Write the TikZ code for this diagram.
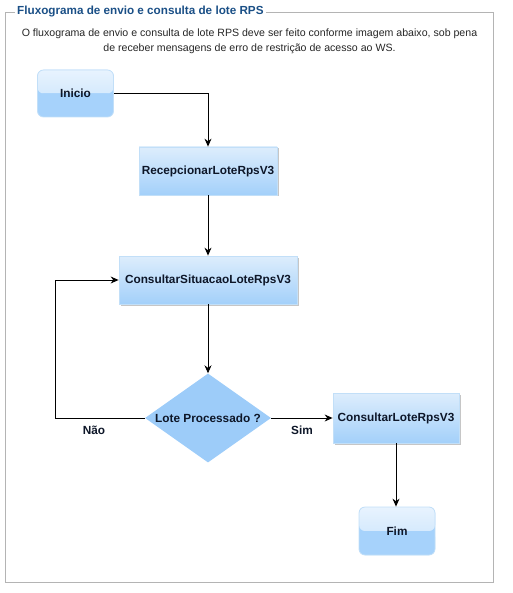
\documentclass[tikz,border=0pt]{standalone}
\usepackage{fontspec}
\setmainfont{Liberation Sans}
\usetikzlibrary{shapes.geometric,arrows.meta,shadows}
\definecolor{frame}{HTML}{B4B4B4}
\definecolor{titleblue}{HTML}{1A4F86}
\definecolor{boxtop}{HTML}{DDEDFC}
\definecolor{boxbot}{HTML}{A3D0FA}
\definecolor{boxline}{HTML}{C2DFF8}
\definecolor{uptop}{HTML}{E8F3FE}
\definecolor{upbot}{HTML}{C3E1FB}
\definecolor{lowfill}{HTML}{A6D2FB}
\definecolor{diafill}{HTML}{9DCCF9}
\definecolor{labtext}{HTML}{0D1628}
\tikzset{
  lbl/.style={font=\bfseries\fontsize{11.8}{13}\selectfont, text=labtext},
  procbox/.style={lbl, rectangle, draw=boxline, line width=0.8pt,
    top color=boxtop, bottom color=boxbot, inner sep=0pt,
    drop shadow={shadow xshift=1.5pt, shadow yshift=-1.5pt, fill=black!50, opacity=0.45}},
  termbox/.style={lbl, rectangle, rounded corners=6pt, draw=boxline, line width=0.8pt,
    inner sep=0pt, fill=lowfill,
    path picture={
      \fill[top color=uptop, bottom color=upbot]
        (path picture bounding box.north west) rectangle (path picture bounding box.east);
      \fill[lowfill]
        (path picture bounding box.west) rectangle (path picture bounding box.south east);
    }},
  decbox/.style={lbl, diamond, fill=diafill, inner sep=0pt, aspect=1.4},
  arr/.style={line width=0.9pt, -{Stealth[length=8pt,width=7pt]}},
  edgelbl/.style={lbl}
}
\begin{document}
\begin{tikzpicture}[x=1pt,y=-1pt]
\useasboundingbox (0,0) rectangle (512,593);
% frame with title
\draw[frame, line width=0.8pt] (15,12) -- (5,12) -- (5,582) -- (493,582) -- (493,12) -- (266,12);
\node[anchor=west, inner sep=0pt, text=titleblue, font=\bfseries\fontsize{11.7}{13}\selectfont] (title) at (17,12) {Fluxograma de envio e consulta de lote RPS};
\node[inner sep=0pt, align=center, font=\fontsize{10.6}{15}\selectfont, text=black!85] (intro) at (249.5,41.5)
  {O fluxograma de envio e consulta de lote RPS deve ser feito conforme imagem abaixo, sob pena\\de receber mensagens de erro de restrição de acesso ao WS.};

\node[termbox, minimum width=76pt, minimum height=47pt] (inicio) at (75.5,93.5) {Inicio};
\node[procbox, minimum width=138pt, minimum height=48pt] (recep) at (208,171) {RecepcionarLoteRpsV3};
\node[procbox, minimum width=178pt, minimum height=48pt] (cons) at (208,280) {ConsultarSituacaoLoteRpsV3};
\node[decbox, minimum width=126pt, minimum height=89pt] (dec) at (208,418) {Lote Processado ?};
\node[procbox, minimum width=126pt, minimum height=50pt] (lote) at (396,418) {ConsultarLoteRpsV3};
\node[termbox, minimum width=76pt, minimum height=48pt] (fim) at (397,531) {Fim};

\coordinate (nao) at (55,418);
\draw[arr] (inicio.east) -| (recep.north);
\draw[arr] (recep.south) -- (cons.north);
\draw[arr] (cons.south) -- (dec.north);
\draw[arr] (dec.west) -- (nao) |- (cons.west);
\draw[arr] (dec.east) -- (lote.west);
\draw[arr] (lote.south) -- (lote.south |- fim.north);

\node[edgelbl] (naolbl) at (94,430) {Não};
\node[edgelbl] (simlbl) at (302,430) {Sim};
\end{tikzpicture}
\end{document}
